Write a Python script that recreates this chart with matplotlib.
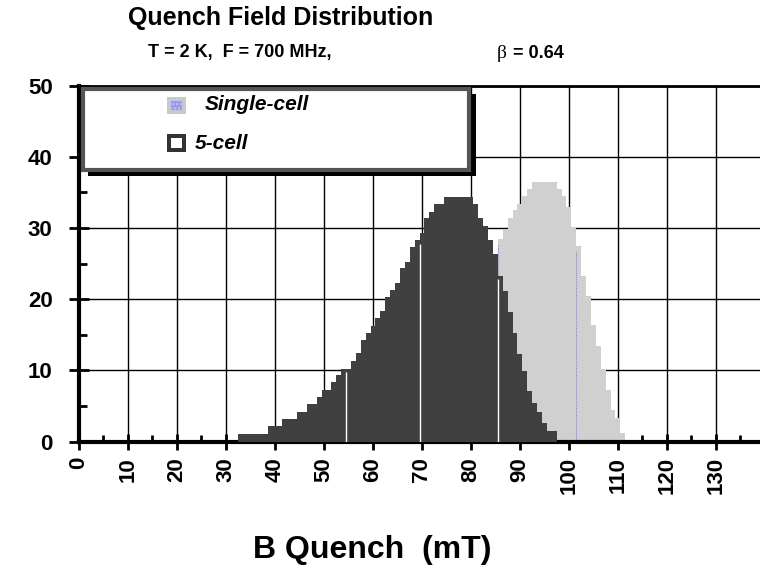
import numpy as np
import matplotlib.pyplot as plt
from matplotlib.patches import Rectangle
from matplotlib.ticker import MultipleLocator

# histogram bins (1 mT wide, centred on integers) and heights
five_cell_mT = np.arange(33, 98)
five_cell_counts = [
    1.1, 1.1, 1.1, 1.1, 1.1, 1.1,          # 33-38
    2.2, 2.2, 2.2, 3.2, 3.2, 3.2,          # 39-44
    4.2, 4.2, 5.3, 5.3, 6.2, 7.2, 7.2,     # 45-51
    8.4, 9.3, 10.2, 10.2, 11.3, 12.4,      # 52-57
    14.2, 15.2, 16.2, 17.4, 18.3, 20.3,    # 58-63
    21.3, 22.3, 24.3, 25.2, 27.3, 28.3,    # 64-69
    29.3, 31.4, 32.3, 33.3, 33.3,          # 70-74
    34.4, 34.4, 34.4, 34.4, 34.4, 34.4,    # 75-80
    33.3, 31.4, 30.3, 28.3, 26.4, 23.3,    # 81-86
    21.2, 18.2, 15.2, 12.3, 9.9, 7.1,      # 87-92
    5.4, 4.1, 2.6, 1.5, 1.5,               # 93-97
]
single_cell_mT = np.arange(86, 112)
single_cell_counts = [
    28.5, 29.8, 31.4, 32.5, 33.4, 34.5, 35.5,   # 86-92
    36.4, 36.4, 36.4, 36.4, 36.4,               # 93-97
    35.5, 34.5, 33.0, 30.0, 27.4, 23.3,         # 98-103
    20.4, 16.4, 13.4, 10.2, 7.3, 4.4, 3.3, 1.2, # 104-111
]
# thin render seams visible in the original bars
dark_gaps = [54.5, 69.5, 85.5]
light_gaps = [85.5, 101.5]

W, H = 760, 569

def fx(px):
    return px / W

def fy(py):
    return 1 - py / H

def edge_height(centers, counts, edge):
    c = dict(zip(centers.tolist(), counts))
    return min(c.get(int(edge - 0.5), np.inf), c.get(int(edge + 0.5), np.inf))

plt.rcParams["font.family"] = ["Liberation Sans", "DejaVu Sans"]
plt.rcParams["font.weight"] = "bold"

fig = plt.figure(figsize=(7.6, 5.69), dpi=100)
ax = fig.add_axes([fx(79), fy(441.5), 1 - fx(79), fy(85.5) - fy(441.5)])

ax.bar(single_cell_mT, single_cell_counts, width=1.0, color="#d0d0d0",
       linewidth=0, zorder=2)
ax.vlines(light_gaps, 0,
          [edge_height(single_cell_mT, single_cell_counts, g) - 0.8 for g in light_gaps],
          colors="#8080ff", linewidth=0.8, linestyles=(0, (1, 1)), zorder=2.5)
ax.bar(five_cell_mT, five_cell_counts, width=1.0, color="#404040",
       linewidth=0, zorder=3)
ax.vlines(dark_gaps, 0,
          [edge_height(five_cell_mT, five_cell_counts, g) - 0.5 for g in dark_gaps],
          colors="white", linewidth=1.0, zorder=4)

ax.set_xlim(0, 139)
ax.set_ylim(0, 50)
ax.xaxis.set_major_locator(MultipleLocator(10))
ax.xaxis.set_minor_locator(MultipleLocator(5))
ax.yaxis.set_major_locator(MultipleLocator(10))
ax.yaxis.set_minor_locator(MultipleLocator(5))
ax.grid(True, which="major", color="black", linewidth=1.0)
ax.set_axisbelow(True)

ax.spines["right"].set_visible(False)
ax.spines["left"].set_linewidth(3)
ax.spines["bottom"].set_linewidth(3)
ax.spines["top"].set_linewidth(2)

ax.tick_params(axis="x", which="major", direction="inout", length=12, width=2,
               labelsize=16, labelrotation=90, pad=5)
ax.tick_params(axis="x", which="minor", direction="in", length=5, width=2)
ax.tick_params(axis="y", which="major", direction="inout", length=14, width=2,
               labelsize=16, pad=12)
ax.tick_params(axis="y", which="minor", direction="in", length=6, width=2)
for lab in ax.get_xticklabels() + ax.get_yticklabels():
    lab.set_fontweight("bold")

# titles and axis label
fig.text(fx(281), fy(18), "Quench Field Distribution", ha="center", va="center",
         fontsize=18, fontweight="bold")
fig.text(fx(148), fy(53), "T = 2 K,  F = 700 MHz,", ha="left", va="center",
         fontsize=13, fontweight="bold")
fig.text(fx(497), fy(53), "\u03b2", ha="left", va="center", fontsize=14,
         family=["Liberation Serif", "DejaVu Serif"], fontweight="normal")
fig.text(fx(508), fy(53), " = 0.64", ha="left", va="center",
         fontsize=13, fontweight="bold")
fig.text(fx(372), fy(550), "B Quench  (mT)", ha="center", va="center",
         fontsize=23, fontweight="bold")

# hand-drawn legend box with shadow
shadow = Rectangle((fx(88), fy(176)), fx(476) - fx(88), fy(94) - fy(176),
                   transform=fig.transFigure, facecolor="black", edgecolor="none",
                   zorder=10)
frame = Rectangle((fx(83), fy(170)), fx(469) - fx(83), fy(89) - fy(170),
                  transform=fig.transFigure, facecolor="white",
                  edgecolor="#555555", linewidth=3, zorder=11)
fig.patches.extend([shadow, frame])

p1_out = Rectangle((fx(167), fy(114)), fx(186) - fx(167), fy(97) - fy(114),
                   transform=fig.transFigure, facecolor="#c9c9c9", edgecolor="none",
                   zorder=12)
p1_in = Rectangle((fx(171), fy(110)), fx(182) - fx(171), fy(101) - fy(110),
                  transform=fig.transFigure, facecolor="#9a9af0", edgecolor="#c0c0f8",
                  hatch="....", linewidth=0, zorder=13)
p2_out = Rectangle((fx(167), fy(152)), fx(186) - fx(167), fy(134) - fy(152),
                   transform=fig.transFigure, facecolor="#333333", edgecolor="none",
                   zorder=12)
p2_in = Rectangle((fx(171), fy(148)), fx(182) - fx(171), fy(138) - fy(148),
                  transform=fig.transFigure, facecolor="white", edgecolor="none",
                  zorder=13)
fig.patches.extend([p1_out, p1_in, p2_out, p2_in])

fig.text(fx(205), fy(105), "Single-cell", ha="left", va="center", fontsize=15,
         fontweight="bold", style="italic", zorder=14)
fig.text(fx(195), fy(143), "5-cell", ha="left", va="center", fontsize=15,
         fontweight="bold", style="italic", zorder=14)

fig.savefig("out.png", dpi=100)
